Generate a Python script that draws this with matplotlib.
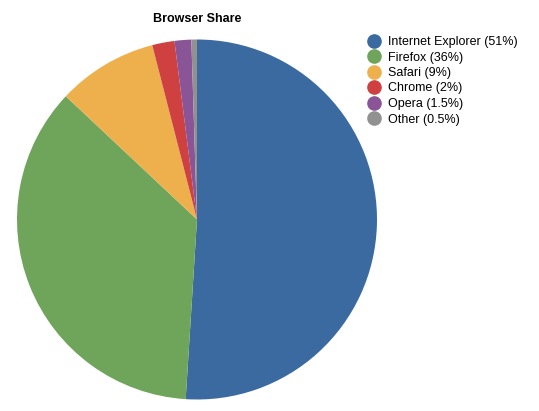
import matplotlib.pyplot as plt
from matplotlib.lines import Line2D

plt.rcParams['font.family'] = ['Liberation Sans', 'DejaVu Sans']

browsers = ["Internet Explorer", "Firefox", "Safari", "Chrome", "Opera", "Other"]
labels = ["Internet Explorer (51%)", "Firefox (36%)", "Safari (9%)",
          "Chrome (2%)", "Opera (1.5%)", "Other (0.5%)"]
shares = [51, 36, 9, 2, 1.5, 0.5]
colors = ["#3a6aa0", "#6fa55a", "#eeb04d", "#ce4140", "#8a5597", "#919191"]

W, H = 539, 411
fig = plt.figure(figsize=(W / 100, H / 100), dpi=100)

# pie centre (197, 219.5) from top, radius 180 px
cx, cy, r = 197, H - 219.5, 180
ax = fig.add_axes([(cx - r) / W, (cy - r) / H, 2 * r / W, 2 * r / H])
ax.pie(shares, colors=colors, startangle=90, counterclock=False, radius=1,
       wedgeprops={"linewidth": 0})
ax.set_xlim(-1, 1)
ax.set_ylim(-1, 1)
ax.set_aspect("equal")
ax.axis("off")

fig.text(cx / W, 1 - 19 / H, "Browser Share", ha="center", va="center",
         fontsize=9, fontweight="bold")

handles = [Line2D([], [], marker="o", linestyle="none", markersize=9.5,
                  markerfacecolor=c, markeredgecolor=c) for c in colors]
fig.legend(handles, labels, loc="upper left", bbox_to_anchor=(368 / W, 1 - 36 / H),
           frameon=False, fontsize=9, handlelength=1.0, handletextpad=0.6,
           labelspacing=0.28, borderaxespad=0, borderpad=0)

fig.savefig("out.png", dpi=100)
